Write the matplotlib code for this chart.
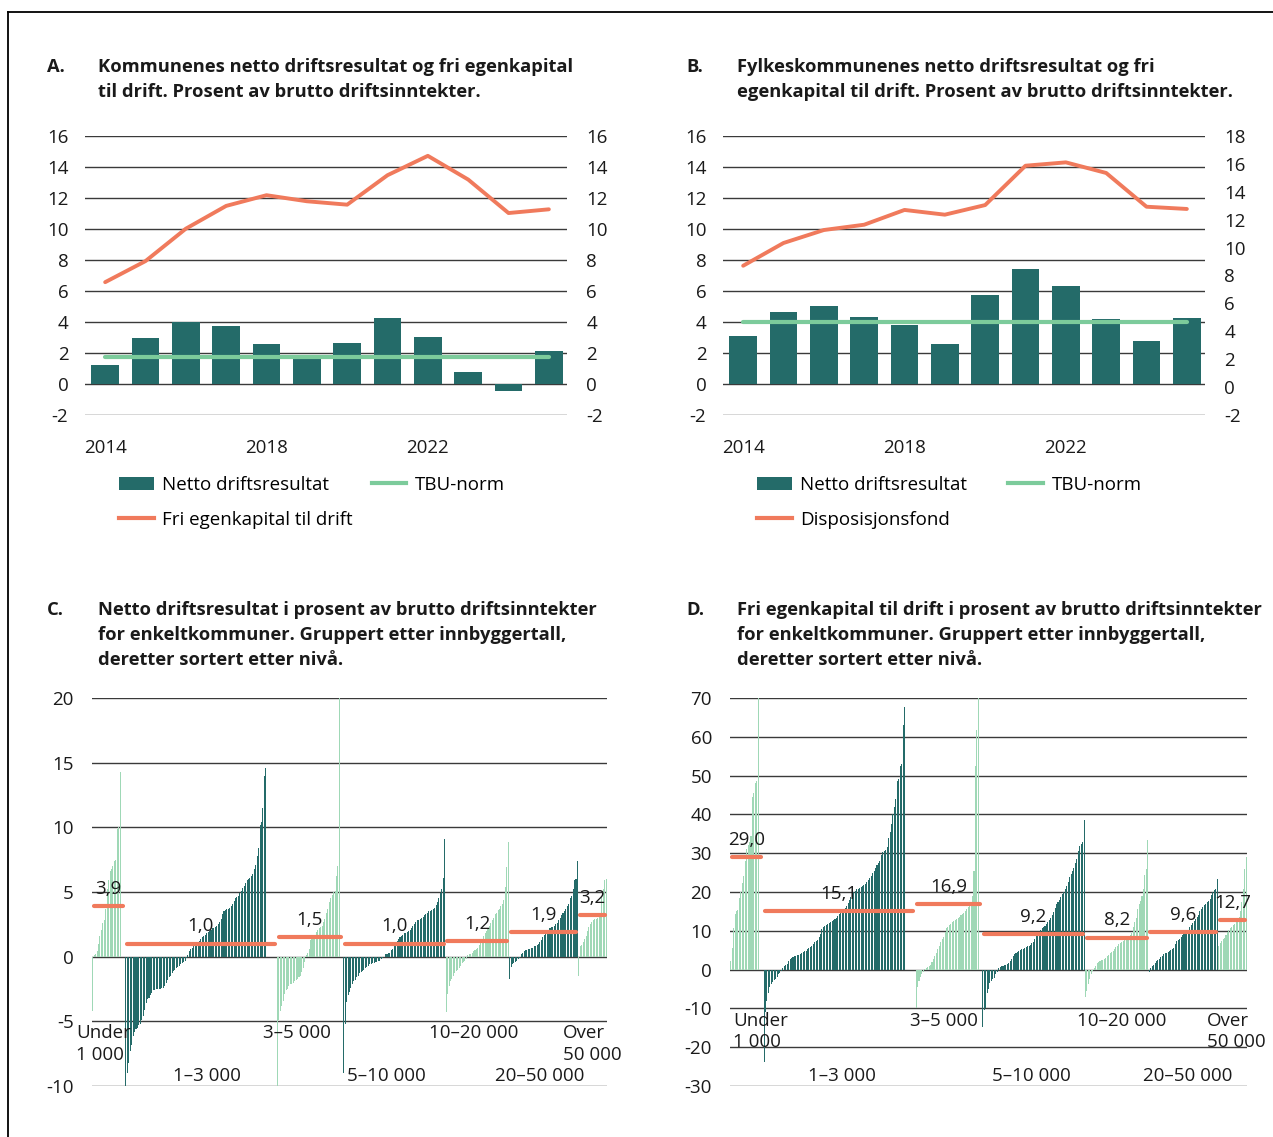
import numpy as np
import matplotlib
matplotlib.use("Agg")
import matplotlib.pyplot as plt
import matplotlib.transforms as mtransforms
from matplotlib.lines import Line2D
from matplotlib.patches import Patch

plt.rcParams['font.family'] = ['Open Sans', 'DejaVu Sans']
plt.rcParams['axes.unicode_minus'] = False

# ---------------- data: panels A and B ----------------
years = [2014, 2015, 2016, 2017, 2018, 2019, 2020, 2021, 2022, 2023, 2024, 2025]
year_ticks = [2014, 2018, 2022]
kommune_netto = [1.25, 2.95, 4.03, 3.77, 2.59, 1.87, 2.65, 4.25, 3.00, 0.75, -0.43, 2.16]
kommune_tbu = [1.75] * 12
kommune_fri = [6.57, 7.93, 10.02, 11.49, 12.18, 11.79, 11.57, 13.47, 14.72, 13.19, 11.03, 11.27]
fylke_netto = [3.12, 4.63, 5.04, 4.33, 3.81, 2.59, 5.73, 7.43, 6.31, 4.20, 2.76, 4.29]
fylke_tbu = [4.0] * 12
fylke_disp = [8.70, 10.33, 11.26, 11.64, 12.70, 12.36, 13.05, 15.87, 16.11, 15.35, 12.93, 12.77]

# ---------------- data: panels C and D ----------------
group_labels = ['Under\n1 000', '1–3 000', '3–5 000', '5–10 000', '10–20 000', '20–50 000', 'Over\n50 000']
missing_counts = [3, 7, 2, 0, 0, 0, 0]   # municipalities without figures (empty slots)

netto_under1 = [-4.2, 0.1, 0.2, 0.4, 1.0, 1.6, 2.1, 2.6, 2.8, 3.7, 5.2, 5.9, 6.6, 6.8, 7.0,
                7.4, 7.5, 9.9, 10.0, 14.3]
netto_1_3 = [-10.0, -9.0, -8.2, -7.3, -6.8, -6.1, -5.8, -5.6, -5.5, -5.3, -5.2, -4.9, -4.6, -4.1,
             -3.6, -3.3, -3.2, -3.0, -2.8, -2.6, -2.6, -2.5, -2.5, -2.5, -2.5, -2.4, -2.4, -2.3,
             -2.0, -1.8, -1.6, -1.5, -1.3, -1.1, -1.0, -0.9, -0.8, -0.7, -0.6, -0.5, -0.4, -0.3,
             -0.1, 0.1, 0.4, 0.6, 0.7, 0.8, 0.8, 0.9, 1.0, 1.2, 1.4, 1.5, 1.6, 1.7, 1.8, 1.9, 2.0,
             2.1, 2.2, 2.2, 2.3, 2.4, 2.5, 2.7, 2.9, 3.3, 3.5, 3.6, 3.7, 3.7, 3.8, 3.9, 4.1, 4.3,
             4.5, 4.6, 4.7, 4.9, 5.1, 5.3, 5.5, 5.7, 5.9, 6.0, 6.1, 6.2, 6.4, 6.8, 7.1, 7.8, 8.4,
             10.2, 10.4, 11.5, 14.0, 14.6]
netto_3_5 = [-10.0, -4.9, -4.2, -3.8, -3.4, -2.9, -2.6, -2.5, -2.3, -2.1, -2.1, -2.0, -1.9, -1.8,
             -1.7, -1.6, -1.5, -1.2, -0.9, -0.4, 0.1, 0.3, 0.6, 1.3, 1.4, 1.5, 1.6, 1.9, 2.1, 2.2,
             2.3, 2.4, 2.7, 2.9, 3.4, 3.7, 4.2, 4.5, 4.8, 5.0, 5.1, 6.2, 7.0, 20.0]
netto_5_10 = [-9.0, -5.2, -3.5, -3.0, -2.7, -2.4, -2.1, -1.9, -1.8, -1.6, -1.5, -1.3, -1.2, -1.1,
              -1.0, -0.9, -0.8, -0.7, -0.6, -0.6, -0.5, -0.5, -0.4, -0.4, -0.3, -0.3, -0.2, -0.1,
              0.0, 0.2, 0.2, 0.3, 0.3, 0.5, 0.6, 0.8, 1.0, 1.2, 1.4, 1.5, 1.6, 1.7, 1.8, 1.8, 1.9,
              2.0, 2.1, 2.2, 2.4, 2.5, 2.7, 2.8, 2.8, 2.9, 3.0, 3.1, 3.2, 3.3, 3.4, 3.5, 3.5, 3.6,
              3.7, 3.8, 4.0, 4.2, 4.5, 4.9, 5.2, 6.1, 9.1]
netto_10_20 = [-4.3, -2.9, -2.3, -1.9, -1.7, -1.5, -1.3, -1.1, -1.0, -0.9, -0.7, -0.5, -0.4, -0.3,
               -0.2, 0.1, 0.2, 0.2, 0.3, 0.4, 0.5, 0.6, 0.7, 0.9, 1.2, 1.4, 1.6, 1.8, 2.0, 2.2,
               2.4, 2.6, 2.8, 3.0, 3.3, 3.4, 3.6, 3.7, 3.9, 4.1, 4.4, 5.4, 6.9, 8.9]
netto_20_50 = [-1.7, -0.8, -0.6, -0.5, -0.4, -0.3, -0.2, -0.1, 0.2, 0.3, 0.4, 0.5, 0.5, 0.6, 0.6,
               0.7, 0.7, 0.8, 0.8, 0.9, 1.0, 1.1, 1.3, 1.5, 1.7, 1.8, 2.0, 2.1, 2.2, 2.3, 2.3, 2.4,
               2.5, 2.6, 2.8, 3.0, 3.2, 3.4, 3.5, 3.7, 3.9, 4.1, 4.5, 4.7, 5.2, 5.9, 6.0, 7.4]
netto_over50 = [-1.5, 0.8, 0.9, 1.1, 1.4, 1.6, 2.0, 2.3, 2.5, 2.7, 2.8, 2.9, 2.9, 3.0, 3.1, 3.3,
                4.6, 5.2, 5.9, 6.0]
netto_avg = [3.9, 1.0, 1.5, 1.0, 1.2, 1.9, 3.2]

fri_under1 = [2.3, 5.5, 10.8, 14.3, 15.0, 15.3, 18.5, 20.0, 22.4, 24.0, 28.0, 31.2, 32.0, 33.0,
              34.5, 44.5, 45.5, 48.0, 48.5, 70.0]
fri_1_3 = [-23.8, -11.0, -8.0, -6.0, -4.5, -3.8, -3.2, -2.8, -2.3, -1.8, -1.2, -0.8, -0.4, 0.3,
           0.8, 1.2, 1.5, 2.2, 2.8, 3.1, 3.3, 3.4, 3.5, 3.7, 3.8, 4.0, 4.3, 4.6, 4.7, 4.9, 5.3,
           5.6, 5.9, 6.2, 6.5, 7.0, 7.4, 7.7, 8.3, 9.2, 10.4, 11.0, 11.2, 11.5, 11.8, 12.1, 12.3,
           12.6, 12.8, 13.1, 13.3, 13.9, 14.3, 14.8, 15.3, 15.6, 16.0, 16.5, 17.2, 18.0, 18.7,
           19.3, 19.9, 20.3, 20.7, 20.9, 21.0, 21.2, 21.5, 21.7, 22.0, 22.6, 23.2, 23.6, 24.2,
           24.9, 25.5, 26.3, 26.9, 27.4, 28.0, 29.5, 30.3, 30.5, 30.7, 31.5, 34.0, 35.5, 37.5,
           40.0, 42.0, 44.0, 48.5, 49.0, 52.5, 53.0, 63.0, 67.8]
fri_3_5 = [-10.0, -4.5, -3.0, -2.0, -1.2, -0.5, 0.2, 0.4, 0.6, 0.8, 1.2, 2.0, 2.7, 3.5, 4.2, 5.2,
           6.2, 7.0, 7.8, 8.4, 9.8, 10.7, 11.1, 11.4, 11.8, 12.2, 12.6, 12.9, 13.1, 13.3, 13.6,
           14.0, 14.3, 14.7, 15.0, 15.6, 16.2, 16.8, 17.5, 19.0, 25.5, 52.6, 61.8, 70.0]
fri_5_10 = [-14.8, -10.5, -10.0, -6.0, -5.0, -3.4, -3.0, -2.5, -2.2, -1.2, -0.5, 0.3, 0.7, 0.9,
            1.0, 1.2, 1.3, 1.5, 1.8, 2.2, 2.8, 3.5, 3.9, 4.3, 4.6, 4.8, 5.0, 5.2, 5.4, 5.6, 5.8,
            6.0, 6.2, 6.4, 6.8, 7.2, 7.8, 8.6, 9.2, 9.7, 10.2, 10.6, 11.0, 11.3, 11.7, 12.2, 12.8,
            13.4, 14.1, 14.8, 15.8, 16.8, 17.3, 18.0, 18.6, 19.4, 20.1, 20.8, 21.6, 22.6, 23.8,
            24.6, 25.5, 26.2, 27.5, 28.6, 30.5, 31.8, 32.4, 33.0, 38.5]
fri_10_20 = [-7.0, -5.5, -3.6, -2.3, -1.2, -0.3, 0.5, 1.0, 1.6, 2.0, 2.2, 2.4, 2.6, 2.8, 3.0, 3.4,
             3.8, 4.2, 4.5, 4.9, 5.3, 5.7, 6.1, 6.5, 6.8, 7.1, 7.4, 7.6, 7.8, 8.0, 8.3, 8.8, 9.5,
             11.0, 12.2, 13.4, 15.5, 16.8, 17.8, 18.9, 20.9, 24.3, 26.0, 33.3]
fri_20_50 = [-0.6, 0.3, 0.9, 1.3, 1.7, 2.1, 2.4, 2.7, 3.2, 3.5, 3.9, 4.2, 4.4, 4.6, 4.8, 5.0, 5.3,
             5.6, 6.5, 7.3, 7.7, 8.0, 8.4, 8.8, 9.2, 9.5, 9.9, 10.3, 10.9, 11.5, 12.1, 12.6, 13.0,
             13.6, 14.2, 15.0, 15.7, 16.1, 16.6, 17.0, 17.3, 17.6, 18.3, 19.2, 20.0, 20.5, 20.9, 23.4]
fri_over50 = [6.0, 6.8, 7.3, 7.8, 8.2, 8.8, 9.6, 10.2, 10.8, 11.0, 11.5, 11.8, 12.3, 12.8, 13.5,
              15.0, 17.4, 20.9, 26.0, 29.0]
fri_avg = [29.0, 15.1, 16.9, 9.2, 8.2, 9.6, 12.7]

netto_groups = [netto_under1, netto_1_3, netto_3_5, netto_5_10, netto_10_20, netto_20_50, netto_over50]
fri_groups = [fri_under1, fri_1_3, fri_3_5, fri_5_10, fri_10_20, fri_20_50, fri_over50]

# ---------------- style ----------------
DARK = '#246b69'
LIGHT = '#9fd8b6'
TBU = '#7ccb9b'
ORANGE = '#f07a5c'
GRID = '#3a3a3a'
TXT = '#1a1a1a'

W, H = 1273, 1137
fig = plt.figure(figsize=(W / 100, H / 100), dpi=100)
fig.patch.set_facecolor('white')


def fx(px):
    return px / W


def fy(py):
    return 1 - py / H


def axrect(l, t, r, b):
    return [fx(l), fy(b), fx(r) - fx(l), (b - t) / H]


# frame (top + left border)
fig.add_artist(Line2D([fx(8), 1.0], [fy(12), fy(12)], color='black', lw=1.3, transform=fig.transFigure))
fig.add_artist(Line2D([fx(8), fx(8)], [fy(12), 0.0], color='black', lw=1.3, transform=fig.transFigure))

TITLE_FS = 13.2
TICK_FS = 13.5
LEG_FS = 13.5


def title(letter, lines, xl, xt, y0, dy=25):
    fig.text(fx(xl), fy(y0), letter, fontsize=TITLE_FS, fontweight='bold', color=TXT,
             ha='left', va='center')
    for k, ln in enumerate(lines):
        fig.text(fx(xt), fy(y0 + k * dy), ln, fontsize=TITLE_FS, fontweight='bold', color=TXT,
                 ha='left', va='center')


def style_axis(ax):
    for s in ax.spines.values():
        s.set_visible(False)
    ax.tick_params(length=0, labelsize=TICK_FS, colors=TXT)


def yearly_panel(rect, netto, tbu, line, right_lim, right_ticks, leg_labels, leg_anchor, colspace):
    ax = fig.add_axes(rect)
    x = np.arange(len(years))
    ax.bar(x, netto, width=0.69, color=DARK, zorder=2)
    ax.plot(x, tbu, color=TBU, lw=3.0, zorder=3, solid_capstyle='round')
    ax.set_ylim(-2, 16)
    ax.set_yticks(np.arange(-2, 17, 2))
    ax.set_xlim(-0.5, 11.45)
    ax.set_xticks([years.index(y) for y in year_ticks])
    ax.set_xticklabels([str(y) for y in year_ticks])
    ax.yaxis.grid(True, color=GRID, lw=1.0)
    ax.set_axisbelow(True)
    style_axis(ax)
    ax.tick_params(axis='y', pad=12)
    ax.tick_params(axis='x', pad=17)
    ax2 = ax.twinx()
    ax2.plot(x, line, color=ORANGE, lw=2.8, zorder=4, solid_capstyle='round')
    ax2.set_ylim(*right_lim)
    ax2.set_yticks(right_ticks)
    style_axis(ax2)
    ax2.tick_params(axis='y', pad=14)
    handles = [Patch(facecolor=DARK), Line2D([], [], color=ORANGE, lw=3.0),
               Line2D([], [], color=TBU, lw=3.0)]
    fig.legend(handles, [leg_labels[0], leg_labels[2], leg_labels[1]], ncol=2,
               loc='upper left', bbox_to_anchor=leg_anchor, bbox_transform=fig.transFigure,
               frameon=False, fontsize=LEG_FS, handlelength=1.85, handleheight=0.75,
               handletextpad=0.45, columnspacing=colspace, labelspacing=0.9,
               borderpad=0, borderaxespad=0)
    return ax


title('A.', ['Kommunenes netto driftsresultat og fri egenkapital',
             'til drift. Prosent av brutto driftsinntekter.'], 47, 98, 67)
title('B.', ['Fylkeskommunenes netto driftsresultat og fri',
             'egenkapital til drift. Prosent av brutto driftsinntekter.'], 686, 737, 67)

yearly_panel(axrect(85, 136, 567, 415), kommune_netto, kommune_tbu, kommune_fri,
             (-2, 16), np.arange(-2, 17, 2),
             ['Netto driftsresultat', 'TBU-norm', 'Fri egenkapital til drift'],
             (fx(119), fy(476)), 1.0)
yearly_panel(axrect(723, 136, 1205, 415), fylke_netto, fylke_tbu, fylke_disp,
             (-2, 18), np.arange(-2, 19, 2),
             ['Netto driftsresultat', 'TBU-norm', 'Disposisjonsfond'],
             (fx(757), fy(476)), 2.2)

title('C.', ['Netto driftsresultat i prosent av brutto driftsinntekter',
             'for enkeltkommuner. Gruppert etter innbyggertall,',
             'deretter sortert etter nivå.'], 47, 98, 610)
title('D.', ['Fri egenkapital til drift i prosent av brutto driftsinntekter',
             'for enkeltkommuner. Gruppert etter innbyggertall,',
             'deretter sortert etter nivå.'], 686, 737, 610)


def dist_panel(rect, groups, avgs, ylim, ystep, label_x, label_ha, row_y, line_gap):
    ax = fig.add_axes(rect)
    start = 0
    for gi, vals in enumerate(groups):
        n = len(vals) + missing_counts[gi]
        xs = np.arange(start, start + len(vals))
        ax.bar(xs, vals, width=0.72, color=LIGHT if gi % 2 == 0 else DARK, linewidth=0, zorder=2)
        x0, x1 = start - 0.5 + 1.3, start + n - 0.5 - 1.3
        ax.plot([x0, x1], [avgs[gi], avgs[gi]], color=ORANGE, lw=3.0,
                solid_capstyle='round', zorder=4)
        ax.annotate(f'{avgs[gi]:.1f}'.replace('.', ','), xy=((x0 + x1) / 2, avgs[gi]),
                    xytext=(0, 6), textcoords='offset points', ha='center', va='bottom',
                    fontsize=TICK_FS, color=TXT, zorder=5)
        start += n
    total = start
    ax.set_xlim(-0.5, total - 0.5)
    ax.set_ylim(*ylim)
    ax.set_yticks(np.arange(ylim[0], ylim[1] + 0.1, ystep))
    ax.set_xticks([])
    ax.yaxis.grid(True, color=GRID, lw=1.0)
    ax.set_axisbelow(True)
    style_axis(ax)
    ax.tick_params(axis='y', pad=13)
    trans = mtransforms.blended_transform_factory(ax.transData, ax.transAxes)
    for gi, lab in enumerate(group_labels):
        yy = row_y[gi % 2]
        for k, part in enumerate(lab.split('\n')):
            ax.text(label_x[gi], yy - k * line_gap, part, transform=trans, ha=label_ha[gi],
                    va='center', fontsize=TICK_FS, color=TXT, zorder=6)
    return ax


dist_panel(axrect(92, 698, 607, 1086), netto_groups, netto_avg, (-10, 20), 5,
           [-11.6, 79, 141.4, 176, 264, 310, 326], ['left', 'center', 'center', 'left', 'center', 'center', 'left'],
           (0.136, 0.025), 0.057)
dist_panel(axrect(730, 698, 1247, 1086), fri_groups, fri_avg, (-30, 70), 10,
           [1.6, 76.6, 147, 207.4, 270.2, 315.8, 329.1], ['left', 'center', 'center', 'center', 'center', 'center', 'left'],
           (0.167, 0.025), 0.054)

fig.savefig('out.png', dpi=100, facecolor='white')
